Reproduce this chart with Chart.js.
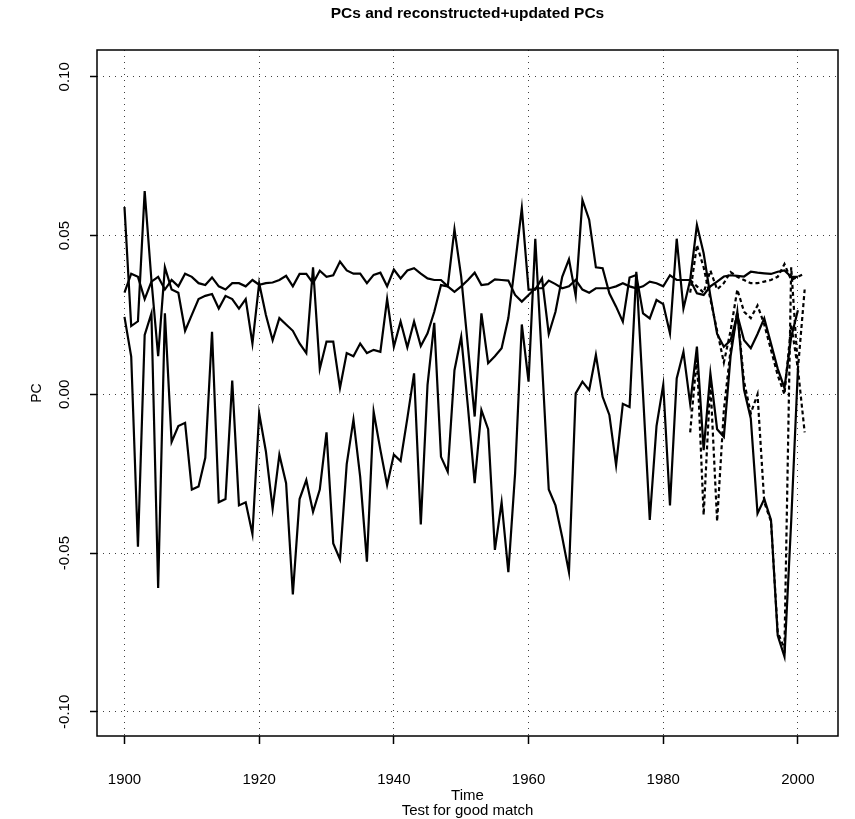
<!DOCTYPE html>
<html>
<head>
<meta charset="utf-8">
<script src="https://cdn.jsdelivr.net/npm/chart.js@4.4.1/dist/chart.umd.min.js"></script>
<style>
  html, body { margin: 0; padding: 0; background: #ffffff; }
  #wrap { width: 855px; height: 819px; }
</style>
</head>
<body>
<div id="wrap"><canvas id="chart" width="855" height="819"></canvas></div>
<script>
// years 1900..2000 for the PCs, 1984..2001 for the reconstructed ones
const years = Array.from({ length: 101 }, (_, i) => 1900 + i)
const updYears = Array.from({ length: 18 }, (_, i) => 1984 + i)

const pcA = [
  0.032, 0.038, 0.037, 0.030, 0.0355, 0.037, 0.033, 0.036, 0.034, 0.038,
  0.037, 0.035, 0.0344, 0.0368, 0.034, 0.033, 0.035, 0.035, 0.034, 0.036,
  0.0345, 0.035, 0.0352, 0.036, 0.0373, 0.034, 0.0379, 0.0379, 0.035, 0.0389,
  0.037, 0.0375, 0.0418, 0.039, 0.038, 0.038, 0.035, 0.0376, 0.0383, 0.034,
  0.0393, 0.0365, 0.039, 0.0397, 0.038, 0.0365, 0.036, 0.036, 0.034, 0.0323,
  0.034, 0.036, 0.0383, 0.0344, 0.0347, 0.0362, 0.036, 0.0358, 0.0313, 0.0292,
  0.0313, 0.0334, 0.0334, 0.0358, 0.0347, 0.0334, 0.034, 0.036, 0.033, 0.032,
  0.0334, 0.0334, 0.0334, 0.034, 0.035, 0.034, 0.0334, 0.034, 0.0355, 0.035,
  0.034, 0.0375, 0.036, 0.036, 0.036, 0.0318, 0.0313, 0.034, 0.0355, 0.0371,
  0.0375, 0.0373, 0.0371, 0.0386, 0.0383, 0.0381, 0.0379, 0.0386, 0.039, 0.037,
  0.037
]

const pcB = [
  0.059, 0.0215, 0.023, 0.064, 0.036, 0.012, 0.040, 0.033, 0.032, 0.020,
  0.025, 0.030, 0.031, 0.0316, 0.027, 0.031, 0.030, 0.027, 0.030, 0.016,
  0.035, 0.025, 0.017, 0.024, 0.022, 0.020, 0.016, 0.013, 0.040, 0.008,
  0.0166, 0.0166, 0.002, 0.013, 0.012, 0.016, 0.013, 0.014, 0.0134, 0.030,
  0.015, 0.0229, 0.0148, 0.0229, 0.0152, 0.0192, 0.026, 0.0344, 0.034, 0.052,
  0.037, 0.015, -0.007, 0.0255, 0.0098, 0.012, 0.0145, 0.024, 0.041, 0.0586,
  0.033, 0.033, 0.0365, 0.019, 0.026, 0.037, 0.0425, 0.031, 0.0612, 0.055,
  0.040, 0.0397, 0.0318, 0.0276, 0.0229, 0.0368, 0.0376, 0.0255, 0.0239, 0.0297,
  0.0284, 0.0192, 0.049, 0.027, 0.036, 0.0533, 0.0444, 0.031, 0.019, 0.015,
  0.017, 0.025, 0.017, 0.0145, 0.019, 0.0239, 0.016, 0.008, 0.002, 0.018,
  0.0265
]

const pcC = [
  0.0244, 0.0119, -0.048, 0.0187, 0.0255, -0.061, 0.0255, -0.015, -0.010, -0.009,
  -0.030, -0.029, -0.020, 0.0197, -0.034, -0.033, 0.0043, -0.035, -0.034, -0.044,
  -0.006, -0.018, -0.036, -0.019, -0.028, -0.063, -0.033, -0.027, -0.037, -0.030,
  -0.012, -0.047, -0.052, -0.022, -0.008, -0.026, -0.0527, -0.0055, -0.0175, -0.0286,
  -0.019, -0.021, -0.0076, 0.0066, -0.041, 0.003, 0.0225, -0.0197, -0.0244, 0.0076,
  0.0181, -0.004, -0.028, -0.005, -0.011, -0.049, -0.034, -0.056, -0.025, 0.022,
  0.004, 0.049, 0.010, -0.030, -0.035, -0.045, -0.056, 0.0003, 0.004, 0.0013,
  0.0124, -0.0008, -0.0065, -0.0223, -0.003, -0.004, 0.0386, 0.000, -0.0396, -0.010,
  0.003, -0.035, 0.005, 0.0134, -0.003, 0.015, -0.0176, 0.0066, -0.011, -0.0134,
  0.012, 0.026, 0.0014, -0.0076, -0.0375, -0.033, -0.0396, -0.076, -0.0826, -0.040,
  0.008
]

const updA = [0.036, 0.034, 0.032, 0.039, 0.033, 0.035, 0.0385, 0.037, 0.036, 0.035, 0.035, 0.0355, 0.036, 0.037, 0.041, 0.036, 0.037, 0.038]
const updB = [0.032, 0.047, 0.040, 0.030, 0.020, 0.010, 0.020, 0.033, 0.026, 0.024, 0.028, 0.022, 0.014, 0.006, 0.000, 0.022, 0.008, 0.033]
const updC = [-0.012, 0.012, -0.038, 0.004, -0.040, -0.005, 0.014, 0.026, 0.004, -0.006, 0.000, -0.034, -0.040, -0.075, -0.080, 0.040, 0.008, -0.012]

const xTicks = [1900, 1920, 1940, 1960, 1980, 2000]
const yTicks = [-0.10, -0.05, 0.00, 0.05, 0.10]

const FONT = "'Liberation Sans', Arial, Helvetica, sans-serif"

const toPoints = (xs, ys) => xs.map((x, i) => ({ x: x, y: ys[i] }))

const solid = (label, values) => ({
  label: label,
  data: toPoints(years, values),
  borderColor: '#000000',
  borderWidth: 2.2,
  pointRadius: 0,
  tension: 0,
  fill: false
})

const dashed = (label, values) => ({
  label: label,
  data: toPoints(updYears, values),
  borderColor: '#000000',
  borderWidth: 2.2,
  borderDash: [4, 3],
  pointRadius: 0,
  tension: 0,
  fill: false
})

// plot frame like R's box()
const boxPlugin = {
  id: 'box',
  afterDraw(chart) {
    const { ctx, chartArea: a } = chart
    ctx.save()
    ctx.strokeStyle = '#000000'
    ctx.lineWidth = 1.5
    ctx.strokeRect(a.left, a.top, a.right - a.left, a.bottom - a.top)
    ctx.restore()
  }
}

new Chart(document.getElementById('chart'), {
  type: 'line',
  data: {
    datasets: [
      solid('PC1', pcA),
      solid('PC2', pcB),
      solid('PC3', pcC),
      dashed('PC1 updated', updA),
      dashed('PC2 updated', updB),
      dashed('PC3 updated', updC)
    ]
  },
  options: {
    responsive: false,
    animation: false,
    devicePixelRatio: 1,
    layout: { padding: { left: 0, right: 17, top: 0, bottom: 0 } },
    plugins: {
      legend: { display: false },
      tooltip: { enabled: false },
      title: {
        display: true,
        fullSize: false,
        text: 'PCs and reconstructed+updated PCs',
        color: '#000000',
        font: { family: FONT, size: 15.5, weight: 'bold', lineHeight: 1.2 },
        padding: { top: 4.7, bottom: 26.7 }
      }
    },
    scales: {
      x: {
        type: 'linear',
        min: 1895.92,
        max: 2005.95,
        afterFit: (scale) => { scale.height = 83 },
        afterBuildTicks: (scale) => { scale.ticks = xTicks.map(v => ({ value: v })) },
        ticks: {
          includeBounds: false,
          color: '#000000',
          padding: 27,
          maxRotation: 0,
          font: { family: FONT, size: 15 },
          callback: (v) => String(v)
        },
        grid: {
          color: 'rgba(0,0,0,0.75)',
          lineWidth: 1,
          tickLength: 8,
          tickColor: '#000000',
          tickWidth: 1.5
        },
        border: { display: false, dash: [1, 5] },
        title: {
          display: true,
          text: ['Time', 'Test for good match'],
          color: '#000000',
          font: { family: FONT, size: 15, lineHeight: 1.0 },
          padding: { top: 0, bottom: 0.5 }
        }
      },
      y: {
        type: 'linear',
        min: -0.10762,
        max: 0.10844,
        afterFit: (scale) => { scale.width = 97 },
        afterBuildTicks: (scale) => { scale.ticks = yTicks.map(v => ({ value: v })) },
        ticks: {
          includeBounds: false,
          color: '#000000',
          padding: 8,
          minRotation: 90,
          maxRotation: 90,
          crossAlign: 'center',
          font: { family: FONT, size: 15 },
          callback: (v) => (Math.abs(v) < 1e-9 ? 0 : v).toFixed(2)
        },
        grid: {
          color: 'rgba(0,0,0,0.75)',
          lineWidth: 1,
          tickLength: 7,
          tickColor: '#000000',
          tickWidth: 1.5
        },
        border: { display: false, dash: [1, 5] },
        title: {
          display: true,
          text: 'PC',
          color: '#000000',
          font: { family: FONT, size: 14, lineHeight: 1.2 },
          padding: { top: 28.6, bottom: 0 }
        }
      }
    }
  },
  plugins: [boxPlugin]
})
</script>
</body>
</html>
